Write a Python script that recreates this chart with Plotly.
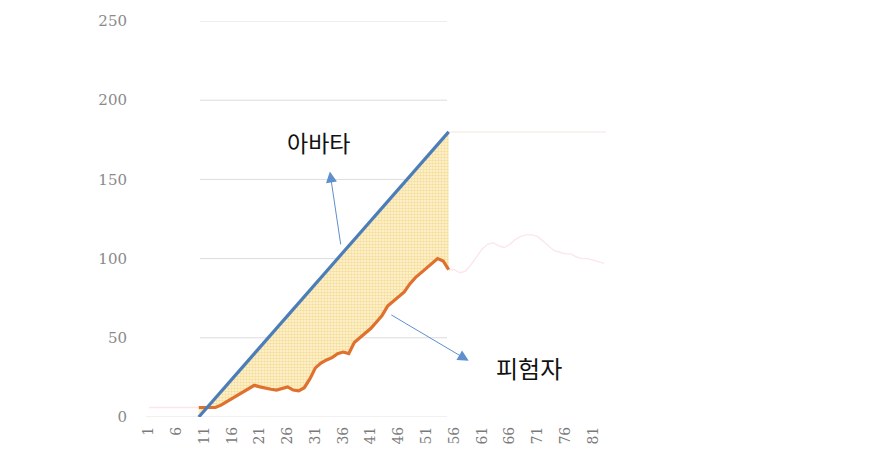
import plotly.graph_objects as go

# ---- data ----
cats_main = list(range(10, 56))  # categories 10..55
avatar = [0, 4, 8, 12, 16, 20, 24, 28, 32, 36, 40, 44, 48, 52, 56, 60, 64, 68, 72, 76,
          80, 84, 88, 92, 96, 100, 104, 108, 112, 116, 120, 124, 128, 132, 136, 140,
          144, 148, 152, 156, 160, 164, 168, 172, 176, 180]
subject = [6, 6, 5.5, 6, 7.5, 9.5, 12, 14, 15.5, 18, 20, 19, 18, 17.5, 17, 18, 19, 17,
           16.5, 18.5, 24, 31, 34, 36, 37.5, 40, 41, 40, 47, 50, 53, 56, 60, 64, 70, 73,
           76, 79, 84, 88, 91, 94, 97, 100, 98.5, 93]

cats_faint = list(range(1, 84))
faint = ([6, 6, 6, 6, 6, 6, 6, 6, 6, 6] + [None] * 44 +
         [93, 93, 91, 92, 96, 101, 106, 109, 110, 108, 107, 109, 112, 114, 115, 115,
          114, 111, 108, 105, 104, 103, 103, 101, 100, 100, 99, 98, 97, 96])
faint = faint[:83]

tick_vals = list(range(1, 82, 5))
tick_text = [str(v) for v in tick_vals]
y_ticks = [0, 50, 100, 150, 200, 250]

label_avatar = "아바타"
label_subject = "피험자"

fig = go.Figure()

fig.add_trace(go.Scatter(x=cats_faint, y=faint, mode="lines",
                         line=dict(color="#fde6ea", width=1.4),
                         connectgaps=False, showlegend=False, hoverinfo="skip"))
fig.add_trace(go.Scatter(x=cats_main, y=subject, mode="lines",
                         line=dict(color="#e0702e", width=3.2),
                         showlegend=False))
fig.add_trace(go.Scatter(x=cats_main, y=avatar, mode="lines",
                         line=dict(color="#4b7db8", width=3.2),
                         fill="tonexty",
                         fillcolor="rgba(252,236,185,0.75)",
                         fillpattern=dict(shape=".", fgcolor="#efc85a",
                                          bgcolor="rgba(253,244,212,0.85)",
                                          size=3, solidity=0.55),
                         showlegend=False))

# gridlines (only over the central part, as in the reference)
shapes = []
for v in y_ticks[1:]:
    shapes.append(dict(type="line", xref="x", yref="y", x0=10.2, x1=54.7, y0=v, y1=v,
                       line=dict(color="#dcdcdc", width=1), layer="below"))
shapes.append(dict(type="line", xref="x", yref="y", x0=0.3, x1=54.7, y0=0, y1=0,
                   line=dict(color="#e3e3e3", width=1.2), layer="below"))
shapes.append(dict(type="line", xref="x", yref="y", x0=54.8, x1=83.3, y0=180, y1=180,
                   line=dict(color="#f9eded", width=1.5), layer="below"))

annotations = [
    dict(x=33.6, y=155, ax=35.6, ay=108, xref="x", yref="y", axref="x", ayref="y",
         text="", showarrow=True, arrowhead=2, arrowsize=2.2, arrowwidth=1,
         arrowcolor="#5f8fcc"),
    dict(x=58.6, y=35.5, ax=44.4, ay=65, xref="x", yref="y", axref="x", ayref="y",
         text="", showarrow=True, arrowhead=2, arrowsize=2.2, arrowwidth=1,
         arrowcolor="#5f8fcc"),
    dict(x=31.5, y=173.5, xref="x", yref="y", text=label_avatar, showarrow=False,
         font=dict(family="Noto Sans CJK KR", size=23, color="#111111")),
    dict(x=69.4, y=31.5, xref="x", yref="y", text=label_subject, showarrow=False,
         font=dict(family="Noto Sans CJK KR", size=24, color="#111111")),
]

fig.update_layout(
    width=877, height=476,
    margin=dict(l=146, r=270, t=18, b=59, pad=0),
    plot_bgcolor="white", paper_bgcolor="white",
    shapes=shapes, annotations=annotations,
    xaxis=dict(range=[0.5, 83.5], tickmode="array", tickvals=tick_vals,
               ticktext=tick_text, tickangle=-90, showgrid=False, zeroline=False,
               showline=False, ticks="", ticklabelstandoff=6,
               tickfont=dict(family="DejaVu Serif", size=14, color="#7a7a7a")),
    yaxis=dict(range=[0, 250], tickmode="array", tickvals=y_ticks, showgrid=False,
               zeroline=False, showline=False, ticks="", ticklabelstandoff=18,
               tickfont=dict(family="DejaVu Serif", size=15, color="#8a8a8a")),
)

fig.write_html("out.html")
